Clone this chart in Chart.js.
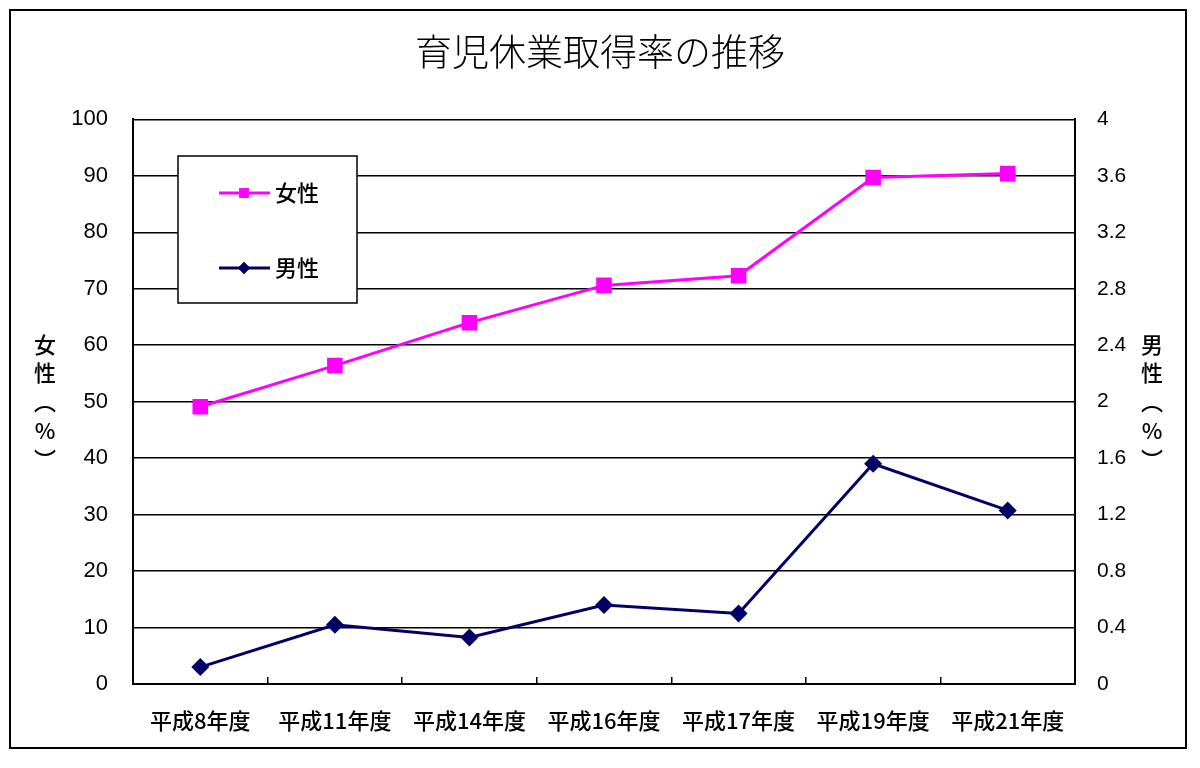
<!DOCTYPE html>
<html>
<head>
<meta charset="utf-8">
<script src="https://cdn.jsdelivr.net/npm/chart.js@4/dist/chart.umd.min.js"></script>
<style>
  html, body { margin: 0; padding: 0; background: #fff; }
  #wrap { width: 1200px; height: 768px; }
</style>
</head>
<body>
<div id="wrap"><canvas id="chart" width="1200" height="768"></canvas></div>
<script>
// data
const categories = ['平成8年度', '平成11年度', '平成14年度', '平成16年度', '平成17年度', '平成19年度', '平成21年度'];
const femaleRate = [49.1, 56.4, 64.0, 70.6, 72.3, 89.7, 90.4];
const maleRate = [0.12, 0.42, 0.33, 0.56, 0.50, 1.56, 1.23];
const leftTitle = ['女', '性', '︵', '%', '︶'];
const rightTitle = ['男', '性', '︵', '%', '︶'];

const cjk = '"Noto Sans CJK JP", "Noto Sans CJK SC", sans-serif';
const num = '"Liberation Sans", Arial, sans-serif';

// outer frame, legend box and the stacked axis titles
const decorations = {
  id: 'decorations',
  afterDraw(chart) {
    const ctx = chart.ctx;
    ctx.save();
    ctx.strokeStyle = '#000';
    ctx.lineWidth = 2;
    ctx.strokeRect(10, 10, 1176, 738);

    // legend
    ctx.fillStyle = '#fff';
    ctx.fillRect(178, 156, 179, 147);
    ctx.lineWidth = 1.5;
    ctx.strokeRect(178, 156, 179, 147);
    const rows = [
      { ds: chart.data.datasets[0], y: 193, r: 7 },
      { ds: chart.data.datasets[1], y: 268, r: 6 }
    ];
    rows.forEach(row => {
      ctx.strokeStyle = row.ds.borderColor;
      ctx.lineWidth = 3;
      ctx.beginPath();
      ctx.moveTo(219, row.y);
      ctx.lineTo(270, row.y);
      ctx.stroke();
      Chart.helpers.drawPoint(ctx, {
        pointStyle: row.ds.pointStyle,
        radius: row.r,
        borderWidth: 0
      }, 244, row.y);
      ctx.fillStyle = row.ds.backgroundColor;
      ctx.fill();
      ctx.fillStyle = '#000';
      ctx.font = '500 22px ' + cjk;
      ctx.textAlign = 'left';
      ctx.textBaseline = 'middle';
      ctx.fillText(row.ds.label, 275, row.y);
    });

    // vertical axis titles
    ctx.fillStyle = '#000';
    ctx.font = '500 22px ' + cjk;
    ctx.textAlign = 'center';
    ctx.textBaseline = 'middle';
    const ys = [345, 373, 402, 431, 460];
    leftTitle.forEach((c, i) => ctx.fillText(c, 45, ys[i]));
    rightTitle.forEach((c, i) => ctx.fillText(c, 1152, ys[i]));
    ctx.restore();
  }
};

new Chart(document.getElementById('chart'), {
  type: 'line',
  data: {
    labels: categories,
    datasets: [
      {
        label: '女性',
        data: femaleRate,
        yAxisID: 'y',
        borderColor: '#ff00ff',
        backgroundColor: '#ff00ff',
        borderWidth: 3,
        pointStyle: 'rect',
        pointRadius: 11,
        pointBorderWidth: 0,
        tension: 0
      },
      {
        label: '男性',
        data: maleRate,
        yAxisID: 'y1',
        borderColor: '#000066',
        backgroundColor: '#000066',
        borderWidth: 3,
        pointStyle: 'rectRot',
        pointRadius: 9,
        pointBorderWidth: 0,
        tension: 0
      }
    ]
  },
  options: {
    responsive: false,
    animation: false,
    layout: { padding: 0 },
    plugins: {
      legend: { display: false },
      tooltip: { enabled: false },
      title: {
        display: true,
        text: '育児休業取得率の推移',
        color: '#000',
        font: { family: cjk, size: 37, weight: '300' },
        padding: { top: 30, bottom: 45 }
      }
    },
    scales: {
      x: {
        offset: true,
        grid: {
          offset: true,
          drawOnChartArea: false,
          drawTicks: true,
          tickLength: -7,
          color: '#000',
          lineWidth: 1.5
        },
        border: { color: '#000', width: 2 },
        ticks: {
          color: '#000',
          padding: 30,
          maxRotation: 0,
          autoSkip: false,
          font: { family: cjk, size: 22, weight: '500' }
        },
        afterFit(s) { s.height = 84; }
      },
      y: {
        position: 'left',
        min: 0,
        max: 100,
        ticks: {
          stepSize: 10,
          color: '#000',
          padding: 25,
          font: { family: num, size: 22 }
        },
        grid: { color: '#000', lineWidth: 1.5, drawTicks: false },
        border: { color: '#000', width: 2 },
        afterFit(s) { s.width = 133; }
      },
      y1: {
        position: 'right',
        min: 0,
        max: 4,
        ticks: {
          stepSize: 0.4,
          color: '#000',
          padding: 22,
          font: { family: num, size: 21 },
          callback: v => Math.round(v * 10) / 10
        },
        grid: { display: false, drawTicks: false },
        border: { color: '#000', width: 2 },
        afterFit(s) { s.width = 125; }
      }
    }
  },
  plugins: [decorations]
});
</script>
</body>
</html>
